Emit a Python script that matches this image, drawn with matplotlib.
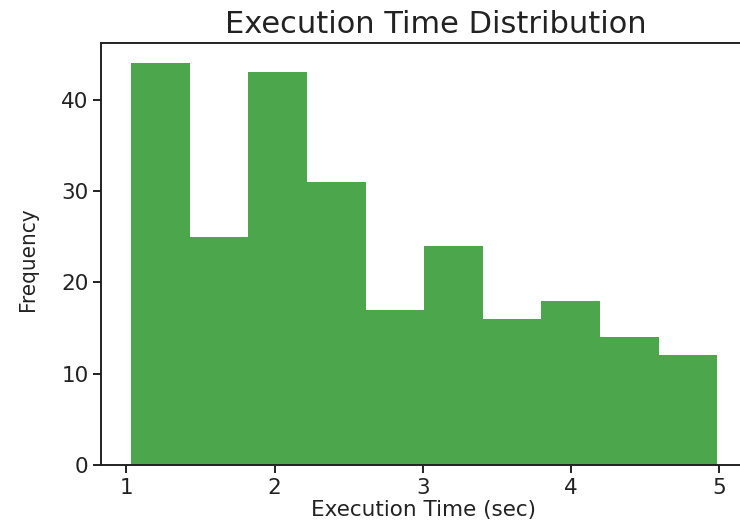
import matplotlib.pyplot as plt
import numpy as np

# histogram counts (10 bins)
counts = [44, 25, 43, 31, 17, 24, 16, 18, 14, 12]
bin_lo = 1.034
bin_hi = 4.985
title = "Execution Time Distribution"
xtitle = "Execution Time (sec)"
ytitle = "Frequency"

t = 0.7  # transparency of bars
txt = '#222222'

edges = np.linspace(bin_lo, bin_hi, len(counts) + 1)
centers = (edges[:-1] + edges[1:]) / 2

fig = plt.figure(figsize=(7.4, 5.25), dpi=100)
# axes run past the right edge, as in the cropped original
ax = fig.add_axes([101 / 740, 60 / 525, 670 / 740, 422 / 525])

ax.hist(centers, bins=edges, weights=counts, color='green', alpha=t)

ax.set_xlim(0.83, 0.83 + 670 / 148.3)
ax.set_ylim(0, 46.2)
ax.set_xticks([1, 2, 3, 4, 5])
ax.set_yticks([0, 10, 20, 30, 40])

for s in ax.spines.values():
    s.set_linewidth(1.4)
    s.set_color(txt)
ax.tick_params(length=6, width=1.4, labelsize=15.5, colors=txt, pad=3)

ax.set_title(title, fontsize=22, color=txt, pad=7)
ax.set_xlabel(xtitle, fontsize=15.5, color=txt)
ax.xaxis.set_label_coords(0.482, -0.082)
ax.set_ylabel(ytitle, fontsize=16, color=txt,
              fontstretch='condensed',
              family=['DejaVu Sans', 'Liberation Sans'])
ax.yaxis.set_label_coords(-0.094, 0.487)

fig.savefig('out.png', dpi=100)
